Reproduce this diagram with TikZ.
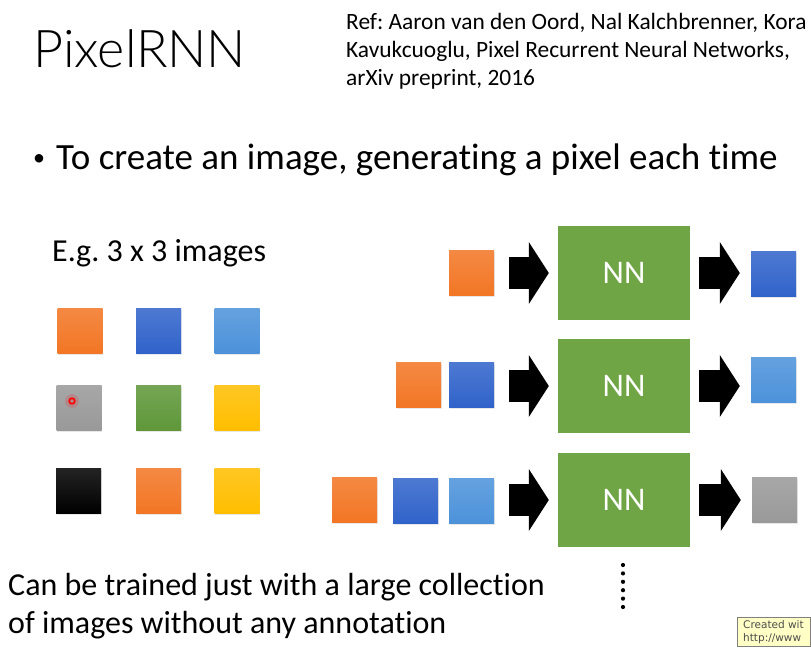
\documentclass[tikz,border=0pt]{standalone}
\usepackage{fontspec}
\setmainfont{Carlito}[Ligatures=NoCommon]
\newfontfamily\thinfont{Lato Light}[Ligatures=NoCommon]
\newfontfamily\tipfont{DejaVu Sans}
\usetikzlibrary{arrows.meta,shadows}
\frenchspacing

\definecolor{pxorange}{HTML}{F27625}
\definecolor{pxblue}{HTML}{3063CA}
\definecolor{pxlight}{HTML}{4C92DA}
\definecolor{pxgreen}{HTML}{5F9739}
\definecolor{pxyellow}{HTML}{FFBE00}
\definecolor{pxgray}{HTML}{999999}
\definecolor{nngreen}{HTML}{6FA545}
\definecolor{tipyellow}{HTML}{FFFFC6}

\tikzset{
  pix/.style={minimum size=45pt, inner sep=0pt, top color=#1!86!white, bottom color=#1,
    drop shadow={opacity=0.18, shadow xshift=0.6pt, shadow yshift=-1.6pt}},
  nnbox/.style={fill=nngreen, minimum width=132pt, minimum height=94pt, inner sep=0pt,
    text=white, font=\fontsize{33}{40}\selectfont},
  bigarrow/.style={line width=32pt, -{Triangle[length=20pt, width=62pt, line width=0pt]}},
  txt/.style={anchor=base west, inner sep=0pt},
}

\begin{document}
\begin{tikzpicture}[x=1pt, y=-1pt]
  \useasboundingbox (0,0) rectangle (811,657);
  \clip (0,0) rectangle (811,657);
  \fill[white] (0,0) rectangle (811,657);

  % heading
  \node[txt, font=\thinfont\fontsize{52}{58}\selectfont] (title) at (33,67) {PixelRNN};
  \node[txt, font=\fontsize{23.4}{28}\selectfont] (ref1) at (346,29) {Ref: Aaron van den Oord, Nal Kalchbrenner, Kora};
  \node[txt, font=\fontsize{23.4}{28}\selectfont] (ref2) at (346,57) {Kavukcuoglu, Pixel Recurrent Neural Networks,};
  \node[txt, font=\fontsize{23.4}{28}\selectfont] (ref3) at (346,85) {arXiv preprint, 2016};
  \node[anchor=base, inner sep=0pt, font=\fontsize{24}{28}\selectfont] (bullet) at (39,165) {\textbullet};
  \node[txt, font=\fontsize{37}{42}\selectfont] (point) at (56,169) {To create an image, generating a pixel each time};

  % 3 x 3 image
  \node[txt, font=\fontsize{32}{38}\selectfont] (eg) at (52,261) {E.g. 3 x 3 images};
  \node[pix=pxorange] (g11) at (80,330.5) {};
  \node[pix=pxblue] (g12) at (158.5,330.5) {};
  \node[pix=pxlight] (g13) at (237,330.5) {};
  \node[pix=pxgray] (g21) at (79,407.5) {};
  \node[pix=pxgreen] (g22) at (158.5,407.5) {};
  \node[pix=pxyellow] (g23) at (237,407.5) {};
  \node[pix=black] (g31) at (78.5,490.5) {};
  \node[pix=pxorange] (g32) at (158.5,490.5) {};
  \node[pix=pxyellow] (g33) at (237,490.5) {};
  \fill[red, opacity=0.15] (72,401) circle (7);
  \draw[red, line width=1.7pt] (72,401) circle (2.8);

  % one pixel each time
  \node[pix=pxorange] (in1) at (471.5,273) {};
  \node[nnbox] (nn1) at (624,273) {NN};
  \node[pix=pxblue] (out1) at (773.5,274) {};
  \draw[bigarrow, shorten <=15pt, shorten >=9pt] (in1.east) -- (nn1.west);
  \draw[bigarrow, shorten <=9pt, shorten >=11pt] (nn1.east) -- (nn1.east -| out1.west);

  \node[pix=pxorange] (in2a) at (418.5,384.5) {};
  \node[pix=pxblue] (in2b) at (471.5,384.5) {};
  \node[nnbox] (nn2) at (624,386) {NN};
  \node[pix=pxlight] (out2) at (773.5,380) {};
  \draw[bigarrow, shorten <=15pt, shorten >=9pt] (nn2.west -| in2b.east) -- (nn2.west);
  \draw[bigarrow, shorten <=9pt, shorten >=11pt] (nn2.east) -- (nn2.east -| out2.west);

  \node[pix=pxorange] (in3a) at (354.5,499.5) {};
  \node[pix=pxblue] (in3b) at (415.5,501) {};
  \node[pix=pxlight] (in3c) at (471.5,501) {};
  \node[nnbox] (nn3) at (624,500) {NN};
  \node[pix=pxgray] (out3) at (774.5,500) {};
  \draw[bigarrow, shorten <=15pt, shorten >=9pt] (nn3.west -| in3c.east) -- (nn3.west);
  \draw[bigarrow, shorten <=9pt, shorten >=11pt] (nn3.east) -- (nn3.east -| out3.west);

  \foreach \i in {0,...,5}
    \fill (623,565+8.4*\i) circle (2.1);

  % bottom remark
  \node[txt, font=\fontsize{32}{38}\selectfont] (note1) at (8,595) {Can be trained just with a large collection};
  \node[txt, font=\fontsize{32}{38}\selectfont] (note2) at (8,633) {of images without any annotation};

  \node[draw=gray, fill=tipyellow, anchor=north west, align=left, inner xsep=6pt, inner ysep=3pt,
    text=black!70, font=\tipfont\fontsize{10.5}{13}\selectfont] (stamp) at (737,617) {Created wit\\http://www};
\end{tikzpicture}
\end{document}
